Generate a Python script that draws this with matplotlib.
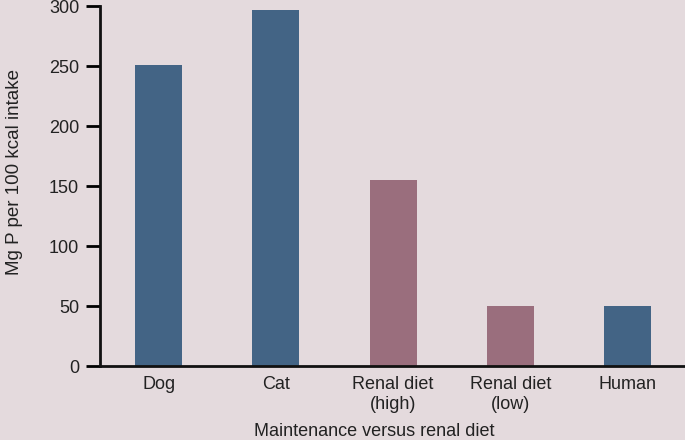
import matplotlib
matplotlib.use("Agg")
import matplotlib.pyplot as plt
import numpy as np

categories = ["Dog", "Cat", "Renal diet\n(high)", "Renal diet\n(low)", "Human"]
values = [251, 297, 155, 50, 50]
groups = ["maintenance", "maintenance", "renal", "renal", "maintenance"]
y_ticks = [0, 50, 100, 150, 200, 250, 300]

BG = "#e4dadd"
COLORS = {"maintenance": "#436485", "renal": "#9a6e7d"}
TXT = "#222222"
FS = 13

plt.rcParams["font.family"] = ["Liberation Sans", "DejaVu Sans"]

W, H = 685, 440
fig = plt.figure(figsize=(W / 100, H / 100), dpi=100, facecolor=BG)
ax = fig.add_axes([0.146, 0.168, 0.854, 0.818], facecolor=BG)

x = np.arange(len(categories))
ax.bar(x, values, width=0.4, color=[COLORS[g] for g in groups])

ax.set_xlim(-0.5, 4.49)
ax.set_ylim(0, 300)
ax.set_yticks(y_ticks)
ax.set_xticks(x)
ax.set_xticklabels(categories, fontsize=FS, color=TXT, linespacing=1.25)
ax.tick_params(axis="y", length=10, width=2, labelsize=FS, labelcolor=TXT, pad=5)
ax.tick_params(axis="x", length=0, pad=7)

for side in ("top", "right"):
    ax.spines[side].set_visible(False)
for side in ("left", "bottom"):
    ax.spines[side].set_linewidth(2)
    ax.spines[side].set_color("#111111")

# axis titles placed by pixel position to match the reference
fig.text(15 / W, 1 - 172 / H, "Mg P per 100 kcal intake", rotation=90,
         ha="center", va="center", fontsize=FS + 0.5, color=TXT)
fig.text(374 / W, 1 - 431 / H, "Maintenance versus renal diet",
         ha="center", va="center", fontsize=FS, color=TXT)

fig.savefig("out.png", dpi=100, facecolor=BG)
